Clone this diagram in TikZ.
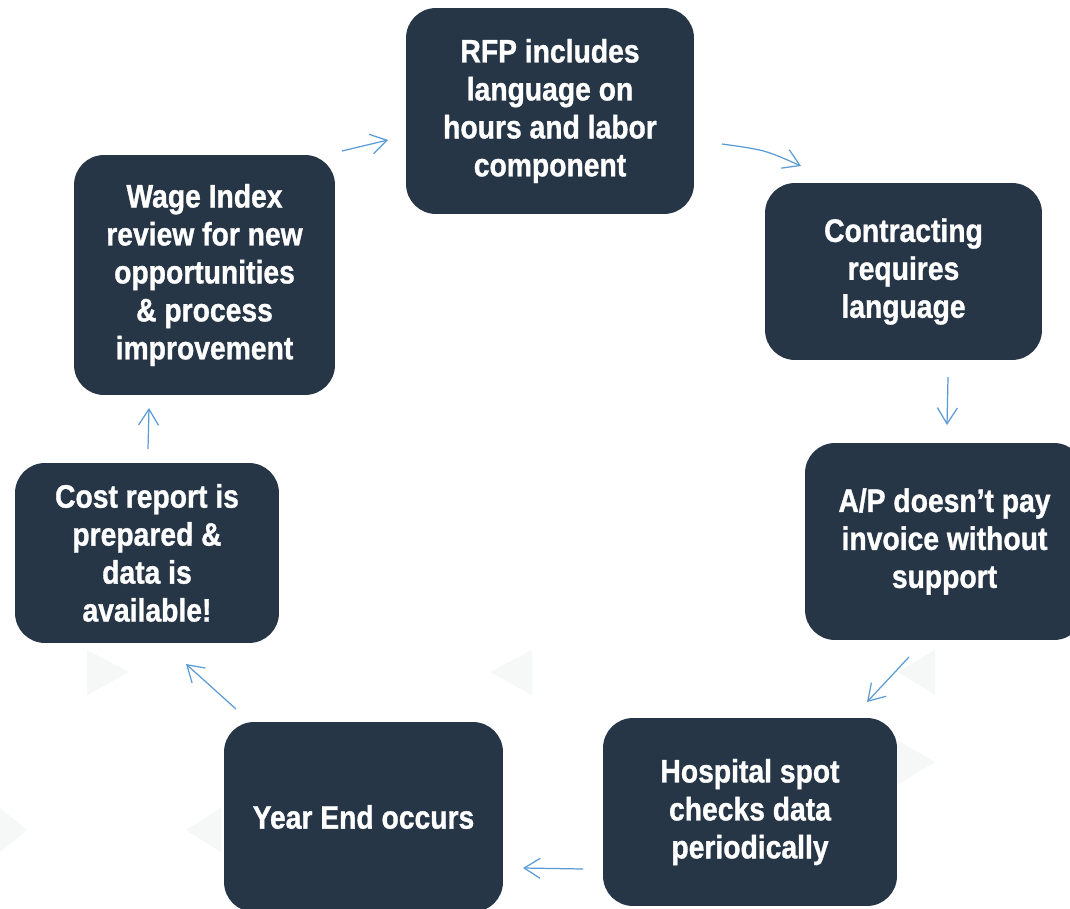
\documentclass[tikz,border=0pt]{standalone}
\usepackage{fontspec}
\setmainfont{Liberation Sans}[FakeStretch=0.87, BoldFeatures={FakeBold=1}]
\usetikzlibrary{arrows.meta}
\definecolor{boxfill}{HTML}{263647}
\definecolor{arrowblue}{HTML}{5B9BD5}
\definecolor{faint}{HTML}{F6F7F7}
\begin{document}
\begin{tikzpicture}[x=0.02cm,y=-0.02cm,
  stepbox/.style={fill=boxfill, rounded corners=0.6cm, text=white,
    font=\bfseries\fontsize{18.5}{21.6}\selectfont, align=center, inner sep=0pt},
  flow/.style={draw=arrowblue, line width=0.7pt,
    -{Straight Barb[length=3.2mm,width=4mm,line width=0.7pt]}},
  faintshape/.style={fill=faint}]
\useasboundingbox (0,0) rectangle (1070,908);
\clip (0,0) rectangle (1070,908);
\fill[white] (0,0) rectangle (1070,908);
% faint background triangles
\fill[faintshape] (87,650) -- (129,672) -- (87,695) -- cycle;
\fill[faintshape] (532,650) -- (490,672) -- (532,695) -- cycle;
\fill[faintshape] (935,650) -- (898,672) -- (935,695) -- cycle;
\fill[faintshape] (0,808) -- (27,830) -- (0,852) -- cycle;
\fill[faintshape] (221,808) -- (186,830) -- (221,852) -- cycle;
\fill[faintshape] (897,740) -- (935,762) -- (897,785) -- cycle;
% boxes
\node[stepbox, minimum width=5.76cm, minimum height=4.12cm] (rfp) at (550,111)
  {RFP includes\\language on\\hours and labor\\component};
\node[stepbox, minimum width=5.54cm, minimum height=3.54cm] (con) at (903.5,271.5)
  {Contracting\\requires\\language};
\node[stepbox, minimum width=5.58cm, minimum height=3.94cm] (ap) at (944.5,541.5)
  {A/P doesn’t pay\\invoice without\\support};
\node[stepbox, minimum width=5.88cm, minimum height=3.76cm] (hos) at (750,812)
  {Hospital spot\\checks data\\periodically};
\node[stepbox, minimum width=5.58cm, minimum height=3.8cm] (ye) at (363.5,817)
  {Year End occurs};
\node[stepbox, minimum width=5.28cm, minimum height=3.6cm] (cost) at (147,553)
  {Cost report is\\prepared \&\\data is\\available!};
\node[stepbox, minimum width=5.22cm, minimum height=4.8cm] (wage) at (204.5,275)
  {Wage Index\\review for new\\opportunities\\\& process\\improvement};
% connector end points
\coordinate (a1s) at (342,151); \coordinate (a1e) at (388,140);
\coordinate (a2s) at (722,144); \coordinate (a2e) at (801,166);
\coordinate (a3s) at (948,377); \coordinate (a3e) at (947,425);
\coordinate (a4s) at (909,657); \coordinate (a4e) at (867,702);
\coordinate (a5s) at (583,869); \coordinate (a5e) at (523,868);
\coordinate (a6s) at (236,709); \coordinate (a6e) at (186,664);
\coordinate (a7s) at (148,449); \coordinate (a7e) at (149,408);
\draw[flow] (a1s) -- (a1e);
\draw[flow] (a2s) .. controls (765,150) .. (a2e);
\draw[flow] (a3s) -- (a3e);
\draw[flow] (a4s) -- (a4e);
\draw[flow] (a5s) -- (a5e);
\draw[flow] (a6s) -- (a6e);
\draw[flow] (a7s) -- (a7e);
\end{tikzpicture}
\end{document}
